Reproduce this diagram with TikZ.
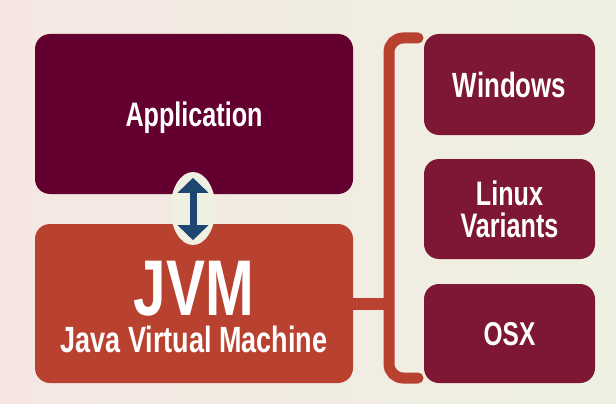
\documentclass[tikz,border=0pt]{standalone}
\usepackage{fontspec}
\setmainfont{Liberation Sans}[FakeStretch=0.74]
\usetikzlibrary{arrows.meta, shapes.geometric, positioning}
\definecolor{appmaroon}{HTML}{640030}
\definecolor{jvmrust}{HTML}{B94130}
\definecolor{osberry}{HTML}{7D1733}
\definecolor{arrownavy}{HTML}{1D4670}
\definecolor{papercream}{HTML}{EEF0E1}
\definecolor{paperpink}{HTML}{F6E6E3}

\begin{document}
\begin{tikzpicture}[x=1pt, y=-1pt,
			block/.style={rounded corners=15pt, text=white, align=center, font=\bfseries, text depth=0pt, inner sep=0pt},
			osbox/.style={block, fill=osberry, minimum width=171pt},
			caption/.style={text=white, font=\bfseries, anchor=base, inner sep=0pt},
			brace/.style={draw=jvmrust, line width=11pt, line cap=round, rounded corners=14pt},
			dblarrow/.style={{Triangle[width=30pt, length=15pt]}-{Triangle[width=30pt, length=15pt]}, line width=7pt, arrownavy}]
			% paper background
			\fill[left color=paperpink, right color=papercream, middle color=papercream!60!paperpink] (0,0) rectangle (616,404);
			\useasboundingbox (0,0) rectangle (616,404);
			\node[block, fill=appmaroon, minimum width=318pt, minimum height=160pt, font=\bfseries\fontsize{34}{34}\selectfont] (app) at (194,114) {Application};
			\node[block, fill=jvmrust, minimum width=318pt, minimum height=159pt] (jvm) at (194,303.5) {};
			\node[caption, font=\bfseries\fontsize{79}{79}\selectfont] (jvmname) at (194,315) {JVM};
			\node[caption, font=\bfseries\fontsize{36.5}{37}\selectfont] (jvmfull) at (194,352) {Java Virtual Machine};
			\node[osbox, minimum height=101pt, font=\bfseries\fontsize{35}{35}\selectfont] (win) at (509.5,84.5) {Windows};
			\node[osbox, minimum height=100pt, font=\bfseries\fontsize{34}{32}\selectfont] (linux) at (509.5,209) {Linux\\Variants};
			\node[osbox, minimum height=99pt, font=\bfseries\fontsize{33}{33}\selectfont] (osx) at (509.5,333.5) {OSX};
			% bracket
			\coordinate (bracetop) at (418,38);
			\coordinate (spine) at (389,38);
			\coordinate (bracebot) at (418,378);
			\draw[brace] (bracetop) -- (spine) -- (spine |- bracebot) -- (bracebot);
			\draw[brace, line width=12pt, line cap=butt] (jvm.east) -- (jvm.east -| spine);
			% up-down arrow
			\node[ellipse, fill=papercream, minimum width=45pt, minimum height=73pt, inner sep=0pt] (halo) at (193,208.5) {};
			\draw[dblarrow] (halo.north) -- (halo.south) [shorten <=6pt, shorten >=5pt];
		\end{tikzpicture}
\end{document}
